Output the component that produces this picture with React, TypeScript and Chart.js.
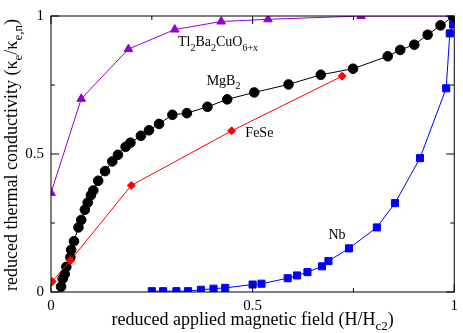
import React, { useEffect, useRef } from "react";
import { Chart, registerables } from "chart.js";

Chart.register(...registerables);

// Tl2Ba2CuO6+x (purple triangles)
const tlX = [0.0, 0.075, 0.192, 0.307, 0.422, 0.538, 0.769, 1.0];
const tlY = [0.359, 0.70, 0.88, 0.951, 0.98, 0.988, 1.0, 1.0];

// MgB2 (black circles)
const mgX = [0.025, 0.029, 0.034, 0.038, 0.048, 0.05, 0.057, 0.068, 0.075, 0.084, 0.091, 0.099, 0.105, 0.117, 0.134, 0.152, 0.166, 0.185, 0.197, 0.223, 0.243, 0.268, 0.301, 0.337, 0.388, 0.437, 0.504, 0.589, 0.669, 0.749, 0.835, 0.866, 0.901, 0.934, 0.966, 0.997];
const mgY = [0.019, 0.048, 0.065, 0.091, 0.126, 0.153, 0.184, 0.234, 0.261, 0.298, 0.324, 0.351, 0.368, 0.403, 0.438, 0.473, 0.497, 0.526, 0.541, 0.566, 0.586, 0.609, 0.642, 0.648, 0.671, 0.698, 0.723, 0.752, 0.787, 0.809, 0.854, 0.877, 0.896, 0.932, 0.966, 0.997];

// FeSe (red diamonds)
const feX = [0.003, 0.048, 0.199, 0.448, 0.722];
const feY = [0.038, 0.114, 0.386, 0.584, 0.782];

// Nb (blue squares)
const nbX = [0.25, 0.278, 0.311, 0.34, 0.372, 0.403, 0.432, 0.5, 0.522, 0.587, 0.61, 0.636, 0.672, 0.688, 0.739, 0.808, 0.853, 0.915, 0.98, 0.989, 0.997];
const nbY = [0.003, 0.003, 0.003, 0.003, 0.008, 0.012, 0.015, 0.027, 0.03, 0.05, 0.06, 0.072, 0.093, 0.112, 0.158, 0.234, 0.322, 0.485, 0.738, 0.937, 0.969];

// Axis ticks
const majorTicks = [0, 0.5, 1];
const minorTicks = [0.25, 0.75];
const tickLabels: Record<string, string> = { "0": "0", "0.5": "0.5", "1": "1" };

const FONT = '"Liberation Serif", "Times New Roman", serif';

type Seg = { t: string; sub?: boolean };

function drawRich(ctx: CanvasRenderingContext2D, segs: Seg[], x: number, y: number, size: number, align: "left" | "center") {
  const subSize = Math.round(size * 0.7);
  let total = 0;
  const widths = segs.map((s) => {
    ctx.font = `${s.sub ? subSize : size}px ${FONT}`;
    const w = ctx.measureText(s.t).width;
    total += w;
    return w;
  });
  let cx = align === "center" ? x - total / 2 : x;
  ctx.textBaseline = "alphabetic";
  ctx.textAlign = "left";
  segs.forEach((s, i) => {
    ctx.font = `${s.sub ? subSize : size}px ${FONT}`;
    ctx.fillText(s.t, cx, s.sub ? y + size * 0.3 : y);
    cx += widths[i];
  });
}

const decorPlugin = {
  id: "decor",
  afterDatasetsDraw(chart: any) {
    const { ctx, chartArea, scales } = chart;
    const { left, right, top, bottom } = chartArea;
    ctx.save();
    ctx.strokeStyle = "#000";
    ctx.lineWidth = 1;
    ctx.strokeRect(left, top, right - left, bottom - top);
    ctx.beginPath();
    const tick = (v: number, len: number) => {
      const px = scales.x.getPixelForValue(v);
      ctx.moveTo(px, bottom); ctx.lineTo(px, bottom - len);
      ctx.moveTo(px, top); ctx.lineTo(px, top + len);
      const py = scales.y.getPixelForValue(v);
      ctx.moveTo(left, py); ctx.lineTo(left + len, py);
      ctx.moveTo(right, py); ctx.lineTo(right - len, py);
    };
    majorTicks.forEach((v) => tick(v, 8));
    minorTicks.forEach((v) => tick(v, 4));
    ctx.stroke();

    ctx.fillStyle = "#000";
    const px = (v: number) => scales.x.getPixelForValue(v);
    const py = (v: number) => scales.y.getPixelForValue(v);
    drawRich(ctx, [{ t: "Tl" }, { t: "2", sub: true }, { t: "Ba" }, { t: "2", sub: true }, { t: "CuO" }, { t: "6+x", sub: true }], px(0.315), py(0.89), 14, "left");
    drawRich(ctx, [{ t: "MgB" }, { t: "2", sub: true }], px(0.386), py(0.75), 14, "left");
    drawRich(ctx, [{ t: "FeSe" }], px(0.482), py(0.56), 14, "left");
    drawRich(ctx, [{ t: "Nb" }], px(0.688), py(0.192), 14, "left");

    // axis titles
    drawRich(ctx, [{ t: "reduced applied magnetic field (H/H" }, { t: "c2", sub: true }, { t: ")" }], (left + right) / 2, 325, 18, "center");
    ctx.save();
    ctx.translate(17, 155);
    ctx.rotate(-Math.PI / 2);
    drawRich(ctx, [{ t: "reduced thermal conductivity (κ" }, { t: "e", sub: true }, { t: "/κ" }, { t: "e,n", sub: true }, { t: ")" }], 0, 0, 18, "center");
    ctx.restore();
    ctx.restore();
  },
};

function pts(xs: number[], ys: number[]) {
  return xs.map((x, i) => ({ x, y: ys[i] }));
}

export default function App() {
  const ref = useRef<HTMLCanvasElement>(null);
  useEffect(() => {
    document.body.style.margin = "0";
    const ds = (data: any, color: string, style: string, r: number) => ({
      data,
      showLine: true,
      borderColor: color,
      backgroundColor: color,
      pointBackgroundColor: color,
      pointBorderColor: color,
      pointStyle: style,
      pointRadius: r,
      pointBorderWidth: 1,
      borderWidth: 1,
      tension: 0,
    });
    const chart = new Chart(ref.current!, {
      type: "scatter",
      data: {
        datasets: [
          ds(pts(nbX, nbY), "#0000ff", "rect", 5),
          ds(pts(feX, feY), "#ff0000", "rectRot", 4),
          ds(pts(mgX, mgY), "#000000", "circle", 4.8),
          ds(pts(tlX, tlY), "#9400d3", "triangle", 5),
        ],
      },
      options: {
        responsive: false,
        animation: false,
        events: [],
        layout: { padding: { left: 0, top: 6, right: 5, bottom: 0 } },
        plugins: { legend: { display: false }, tooltip: { enabled: false } },
        scales: {
          x: {
            type: "linear",
            min: 0,
            max: 1,
            grid: { display: false, drawTicks: false },
            border: { display: false },
            afterFit: (s: any) => { s.height = 41; },
            afterBuildTicks: (s: any) => { s.ticks = majorTicks.map((v) => ({ value: v })); },
            ticks: {
              padding: 5,
              maxRotation: 0,
              autoSkip: false,
              color: "#000",
              font: { family: FONT, size: 15 },
              callback: (v: any) => tickLabels[String(v)] ?? "",
            },
          },
          y: {
            type: "linear",
            min: 0,
            max: 1,
            grid: { display: false, drawTicks: false },
            border: { display: false },
            afterFit: (s: any) => { s.width = 51; },
            afterBuildTicks: (s: any) => { s.ticks = majorTicks.map((v) => ({ value: v })); },
            ticks: {
              padding: 7,
              autoSkip: false,
              color: "#000",
              font: { family: FONT, size: 15 },
              callback: (v: any) => tickLabels[String(v)] ?? "",
            },
          },
        },
      },
      plugins: [decorPlugin],
    });
    return () => chart.destroy();
  }, []);
  return (
    <div style={{ width: 463, height: 333 }}>
      <canvas ref={ref} width={463} height={333} style={{ width: 463, height: 333, display: "block" }} />
    </div>
  );
}
